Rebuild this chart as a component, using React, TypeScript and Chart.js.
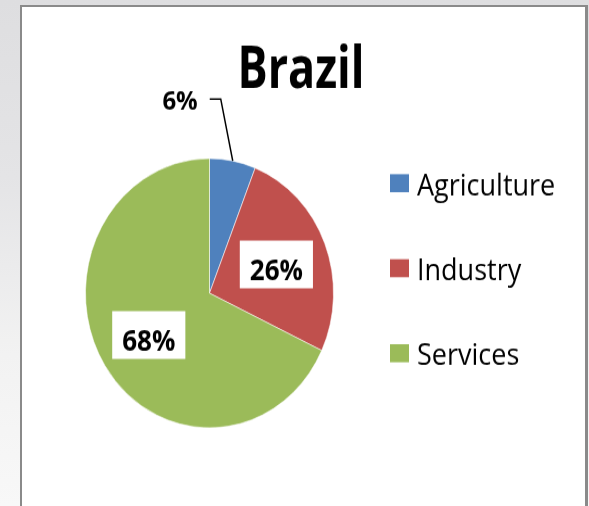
import React, { useEffect, useRef } from "react";
import { Chart, registerables } from "chart.js";

Chart.register(...registerables);

const title = "Brazil";
const categories = ["Agriculture", "Industry", "Services"];
const shares = [6, 26, 68];
const colors = ["#4F81BD", "#C0504D", "#9BBB59"];

const FONT = "'Open Sans', 'Noto Sans', sans-serif";

const overlayPlugin = {
  id: "overlay",
  afterDatasetsDraw(chart: any) {
    const ctx = chart.ctx as CanvasRenderingContext2D;
    const meta = chart.getDatasetMeta(0);
    const data = chart.data.datasets[0].data as number[];
    const total = data.reduce((a, b) => a + b, 0);
    ctx.save();
    meta.data.forEach((el: any, i: number) => {
      const p = el.getProps(["x", "y", "startAngle", "endAngle", "outerRadius"], true);
      const mid = (p.startAngle + p.endAngle) / 2;
      const label = Math.round((data[i] / total) * 100) + "%";
      if (i === 0) {
        const ax = p.x + Math.cos(mid) * p.outerRadius;
        const ay = p.y + Math.sin(mid) * p.outerRadius;
        const ex = ax - 12;
        const ey = ay - 57;
        const lx = ex - 11;
        ctx.strokeStyle = "#000";
        ctx.lineWidth = 1.5;
        ctx.beginPath();
        ctx.moveTo(ax, ay);
        ctx.lineTo(ex, ey);
        ctx.lineTo(lx, ey);
        ctx.stroke();
        ctx.font = `bold 24px ${FONT}`;
        ctx.fillStyle = "#000";
        ctx.textAlign = "right";
        ctx.textBaseline = "alphabetic";
        ctx.fillText(label, lx - 12, ey + 9.5);
      } else {
        const r = p.outerRadius * 0.58;
        const cx = p.x + Math.cos(mid) * r;
        const cy = p.y + Math.sin(mid) * r;
        ctx.font = `bold 26px ${FONT}`;
        const w = ctx.measureText(label).width + 20;
        const h = 44;
        ctx.fillStyle = "#fff";
        ctx.fillRect(cx - w / 2, cy - h / 2, w, h);
        ctx.fillStyle = "#000";
        ctx.textAlign = "center";
        ctx.textBaseline = "alphabetic";
        ctx.fillText(label, cx, cy + 14);
      }
    });

    categories.forEach((c, i) => {
      const top = 160.4 + i * 78.3;
      ctx.fillStyle = colors[i];
      ctx.fillRect(390, top, 19, 16.6);
      ctx.fillStyle = "#000";
      ctx.font = `27px ${FONT}`;
      ctx.textAlign = "left";
      ctx.textBaseline = "alphabetic";
      ctx.fillText(c, 417, top + 19.3);
    });

    ctx.font = `bold 54px ${FONT}`;
    const tw = ctx.measureText(title).width;
    const sx = 127 / tw;
    ctx.save();
    ctx.translate(301, 80.6);
    ctx.scale(sx, 1);
    ctx.fillStyle = "#000";
    ctx.textAlign = "center";
    ctx.textBaseline = "alphabetic";
    ctx.fillText(title, 0, 0);
    ctx.restore();
    ctx.restore();
  },
};

export default function App() {
  const ref = useRef<HTMLCanvasElement | null>(null);
  useEffect(() => {
    document.body.style.margin = "0";
    if (!ref.current) return;
    const chart = new Chart(ref.current, {
      type: "pie",
      data: {
        labels: categories,
        datasets: [
          {
            data: shares,
            backgroundColor: colors,
            borderColor: "rgba(255,255,255,0.55)",
            borderWidth: 1,
          },
        ],
      },
      options: {
        animation: false,
        responsive: true,
        maintainAspectRatio: false,
        devicePixelRatio: 1,
        events: [],
        layout: { padding: { left: 85, right: 255, top: 145.5, bottom: 71.5 } },
        plugins: {
          legend: { display: false },
          title: { display: false },
          tooltip: { enabled: false },
        },
      },
      plugins: [overlayPlugin],
    });
    return () => chart.destroy();
  }, []);

  return (
    <div
      style={{
        position: "fixed",
        left: 0,
        top: 0,
        width: 589,
        height: 506,
        overflow: "hidden",
        background: "linear-gradient(to bottom, #dedee0 0%, #e4e4e6 35%, #f2f2f2 70%, #f8f8f8 100%)",
      }}
    >
      <div
        style={{
          position: "absolute",
          left: 20,
          top: 5,
          width: 563,
          height: 530,
          background: "#fff",
          borderLeft: "2px solid #8a8a8a",
          borderTop: "2px solid #8a8a8a",
          borderRight: "3px solid #8a8a8a",
        }}
      />
      <div
        style={{
          position: "absolute",
          left: 0,
          top: 0,
          width: 589,
          height: 466,
          transform: "scaleY(1.0858)",
          transformOrigin: "0 0",
        }}
      >
        <canvas ref={ref} />
      </div>
    </div>
  );
}
